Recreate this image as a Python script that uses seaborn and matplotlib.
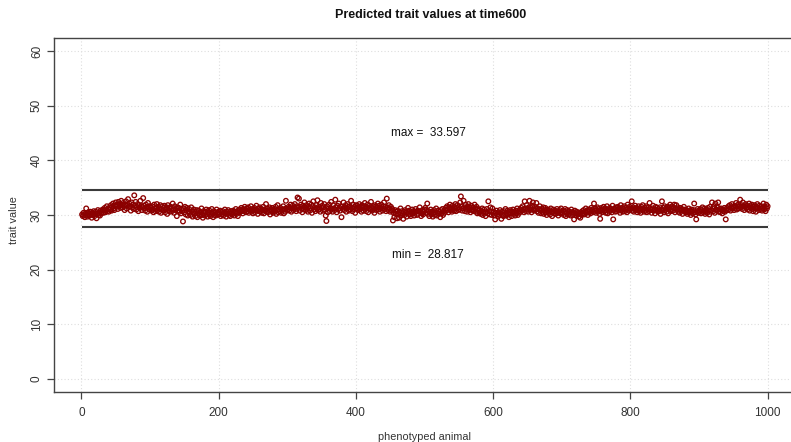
import matplotlib
matplotlib.use("Agg")
import matplotlib.pyplot as plt
import numpy as np
import pandas as pd
import seaborn as sns

# trait values for phenotyped animals 1..1000
seg0 = [30.1, 29.8, 30.4, 30.0, 29.6, 30.3, 31.2, 30.0, 29.7, 30.5,
        30.2, 29.9, 30.6, 30.1, 29.5, 30.4, 30.0, 30.7, 29.8, 30.3,
        30.6, 29.4, 30.2, 30.9, 30.0, 30.4, 29.9, 30.8, 30.3, 30.6,
        31.0, 30.4, 30.8, 31.3, 30.5, 30.9, 31.6, 30.7, 31.1, 30.6,
        31.4, 31.0, 31.8, 30.8, 31.5, 32.1, 31.2, 30.9, 31.7, 32.3,
        31.5, 31.9, 31.1, 32.4, 31.6, 32.0, 31.3, 32.6, 31.8, 31.4,
        32.2, 31.7, 30.9, 31.9, 32.5, 31.2, 31.8, 32.9, 31.5, 32.1,
        31.6, 30.8, 32.3, 31.4, 31.9, 31.1, 33.597, 31.7, 32.4, 31.0,
        31.5, 32.0, 30.7, 31.8, 31.3, 32.6, 31.6, 30.9, 31.4, 33.1,
        31.7, 31.2, 30.8, 31.9, 31.4, 30.6, 32.2, 31.5, 31.0, 31.6]
seg1 = [31.3, 30.8, 31.6, 31.0, 30.5, 31.9, 31.2, 30.7, 31.4, 32.0,
        30.9, 31.5, 30.6, 31.2, 31.8, 30.4, 31.1, 31.6, 30.8, 31.3,
        31.7, 30.5, 31.0, 31.4, 30.2, 31.8, 30.9, 31.3, 30.6, 31.5,
        31.1, 30.7, 32.1, 31.0, 30.4, 31.6, 30.9, 31.2, 29.8, 31.4,
        30.8, 31.3, 30.6, 31.9, 30.3, 31.0, 30.7, 28.817, 31.2, 30.5,
        31.5, 30.1, 30.9, 31.3, 29.9, 30.6, 31.1, 30.4, 30.0, 31.4,
        30.7, 29.7, 30.5, 31.0, 30.2, 29.8, 30.6, 30.9, 29.6, 30.3,
        30.8, 30.1, 29.9, 30.5, 31.2, 30.0, 29.5, 30.7, 30.4, 29.9,
        30.6, 31.0, 30.2, 29.7, 30.5, 30.9, 30.1, 29.8, 30.4, 31.1,
        30.3, 29.6, 30.7, 30.0, 30.5, 29.9, 31.0, 30.4, 30.1, 30.6]
seg2 = [30.2, 30.8, 29.8, 30.5, 30.1, 30.7, 29.9, 30.4, 31.0, 30.3,
        29.7, 30.6, 30.2, 30.9, 30.0, 30.5, 29.8, 30.7, 30.3, 30.1,
        30.8, 30.4, 29.9, 30.6, 31.1, 30.2, 30.5, 29.8, 30.9, 30.4,
        31.0, 30.6, 31.3, 30.8, 30.3, 31.1, 30.7, 31.5, 30.9, 30.5,
        31.2, 30.7, 31.4, 30.4, 31.0, 30.8, 31.6, 30.6, 31.1, 30.3,
        30.9, 31.3, 30.5, 31.0, 31.7, 30.8, 30.2, 31.2, 30.7, 31.4,
        30.6, 31.1, 30.4, 30.9, 31.5, 30.3, 31.0, 30.8, 32.0, 30.6,
        31.2, 30.5, 30.9, 31.4, 30.1, 31.0, 30.7, 31.3, 30.4, 30.8,
        31.1, 30.6, 31.5, 30.2, 30.9, 31.8, 30.5, 31.0, 30.7, 31.3,
        30.4, 31.0, 30.8, 31.6, 30.3, 31.1, 30.6, 32.6, 31.2, 30.9]
seg3 = [31.0, 31.5, 30.8, 31.3, 31.9, 30.6, 31.2, 31.7, 30.9, 31.4,
        32.0, 31.1, 30.7, 31.6, 33.2, 31.3, 33.0, 30.8, 31.5, 31.9,
        31.2, 30.5, 31.7, 31.0, 32.3, 31.4, 30.9, 31.8, 31.1, 30.6,
        31.5, 32.1, 30.8, 31.3, 31.9, 30.4, 31.6, 32.5, 31.0, 31.4,
        30.7, 31.8, 31.2, 32.7, 30.9, 31.5, 31.1, 30.6, 32.2, 31.3,
        31.7, 30.8, 31.4, 32.0, 31.0, 29.9, 28.9, 31.6, 30.5, 31.2,
        31.9, 30.7, 31.3, 32.4, 31.1, 30.6, 31.8, 31.2, 30.9, 32.8,
        31.4, 30.5, 31.7, 31.0, 32.1, 31.3, 30.8, 31.6, 29.6, 31.5,
        31.1, 32.3, 30.9, 31.4, 31.8, 30.6, 31.2, 32.0, 31.5, 30.8,
        31.6, 31.0, 32.6, 31.3, 30.7, 31.9, 31.1, 31.5, 30.4, 31.8]
seg4 = [31.2, 31.7, 30.9, 31.4, 32.0, 31.0, 31.5, 30.6, 31.8, 31.3,
        30.8, 31.6, 32.2, 31.1, 30.7, 31.4, 31.9, 30.5, 31.2, 31.7,
        31.0, 32.4, 31.3, 30.8, 31.6, 31.1, 30.4, 31.8, 31.5, 30.9,
        31.4, 32.1, 31.0, 31.7, 30.6, 31.3, 31.9, 31.2, 30.8, 31.6,
        32.3, 31.1, 31.5, 30.7, 33.0, 31.4, 30.9, 31.8, 31.2, 30.6,
        31.5, 30.8, 31.1, 29.0, 30.4, 29.6, 30.9, 30.2, 30.6, 29.4,
        30.8, 30.1, 29.5, 30.5, 31.2, 29.9, 30.7, 30.3, 29.3, 30.6,
        30.0, 30.9, 30.4, 29.7, 30.6, 31.3, 30.2, 30.8, 30.1, 29.8,
        30.5, 31.0, 30.3, 30.7, 29.9, 30.4, 31.1, 30.6, 30.0, 30.8,
        30.2, 30.7, 31.4, 30.5, 29.8, 30.3, 30.9, 30.1, 30.6, 31.0]
seg5 = [31.3, 30.4, 30.9, 32.1, 30.2, 30.7, 29.8, 30.5, 31.0, 30.1,
        30.6, 29.7, 30.3, 30.9, 30.0, 30.5, 31.2, 29.9, 30.4, 30.8,
        30.2, 30.6, 29.6, 30.9, 30.3, 31.1, 30.0, 30.7, 30.4, 31.0,
        31.3, 30.8, 31.6, 31.0, 30.5, 31.4, 31.9, 30.9, 31.2, 30.6,
        31.7, 31.1, 30.8, 31.5, 32.0, 30.7, 31.3, 31.8, 30.9, 31.4,
        31.0, 32.3, 33.4, 31.6, 30.8, 31.2, 32.6, 31.4, 30.7, 31.9,
        31.1, 30.6, 31.5, 32.0, 30.9, 31.3, 30.5, 31.7, 31.0, 30.8,
        31.4, 30.7, 31.9, 31.2, 30.6, 31.5, 30.3, 31.1, 30.8, 30.4,
        30.9, 30.2, 30.7, 31.2, 30.0, 30.6, 31.0, 30.4, 29.8, 30.5,
        31.1, 30.3, 32.5, 30.7, 30.1, 31.4, 30.6, 30.0, 31.2, 30.4]
seg6 = [30.6, 29.9, 29.2, 30.4, 30.8, 30.1, 29.7, 30.5, 30.0, 30.9,
        30.3, 29.3, 30.6, 30.0, 29.8, 30.7, 30.2, 31.1, 29.9, 30.4,
        30.8, 30.1, 29.6, 30.5, 30.9, 30.3, 29.8, 30.6, 31.0, 30.2,
        30.5, 29.9, 30.8, 30.3, 31.2, 30.0, 30.7, 30.4, 31.0, 30.6,
        31.3, 30.8, 31.6, 31.0, 30.5, 32.5, 31.2, 30.7, 31.8, 31.1,
        30.6, 31.4, 32.6, 30.9, 31.3, 30.5, 31.7, 32.3, 31.0, 30.8,
        31.5, 31.1, 32.2, 30.7, 31.2, 30.4, 31.0, 31.6, 30.8, 30.3,
        31.1, 30.6, 31.4, 30.2, 30.9, 31.3, 30.5, 30.0, 31.0, 30.7,
        30.4, 30.9, 30.1, 31.2, 30.6, 29.8, 30.5, 31.0, 30.3, 30.8,
        30.2, 30.7, 31.1, 30.4, 29.9, 30.6, 30.9, 30.3, 31.2, 30.5]
seg7 = [30.3, 30.8, 30.0, 30.6, 31.1, 29.8, 30.4, 30.9, 30.1, 30.7,
        30.2, 30.6, 29.9, 31.0, 30.4, 30.0, 30.5, 29.2, 30.8, 30.3,
        29.9, 30.6, 30.1, 30.4, 29.7, 30.2, 29.5, 30.5, 30.0, 30.7,
        30.3, 30.9, 30.1, 30.6, 31.2, 30.4, 30.8, 30.0, 31.0, 30.5,
        30.9, 30.3, 31.3, 30.7, 31.0, 30.5, 32.1, 30.8, 31.2, 30.4,
        30.9, 31.4, 30.6, 31.1, 30.2, 29.3, 30.8, 31.3, 30.5, 31.0,
        31.5, 30.7, 31.2, 30.4, 30.9, 31.6, 30.3, 31.0, 30.6, 31.3,
        30.8, 31.1, 30.5, 31.7, 29.2, 30.9, 31.2, 30.6, 31.4, 30.7,
        31.0, 31.5, 30.8, 31.2, 30.4, 31.8, 30.9, 31.3, 30.6, 31.1,
        31.6, 30.7, 31.0, 31.4, 30.5, 31.9, 31.2, 30.8, 31.5, 31.0]
seg8 = [31.2, 32.5, 30.8, 31.4, 30.6, 31.1, 31.7, 30.9, 31.3, 30.5,
        31.0, 31.6, 30.7, 31.2, 30.4, 31.5, 30.9, 31.8, 31.1, 30.6,
        31.3, 30.8, 31.6, 30.5, 31.0, 31.4, 30.7, 32.2, 31.1, 30.9,
        30.4, 31.2, 31.7, 30.8, 31.0, 30.3, 31.5, 30.9, 31.3, 30.6,
        31.1, 30.7, 31.4, 30.2, 31.0, 32.5, 30.8, 31.3, 30.5, 31.6,
        30.9, 31.2, 30.6, 31.5, 30.3, 31.0, 31.4, 31.9, 30.7, 31.1,
        31.6, 30.8, 31.3, 31.9, 30.5, 31.2, 31.8, 30.9, 31.4, 30.6,
        31.0, 30.4, 31.3, 30.8, 31.1, 30.2, 30.9, 31.5, 30.6, 31.0,
        30.5, 30.9, 30.2, 30.7, 31.2, 30.4, 30.8, 30.0, 31.0, 30.6,
        30.3, 30.9, 32.1, 30.5, 30.1, 29.2, 30.7, 31.1, 30.4, 30.8]
seg9 = [30.6, 31.1, 30.3, 30.9, 31.4, 30.5, 30.8, 31.2, 30.2, 30.7,
        31.0, 30.4, 31.3, 30.8, 30.1, 31.5, 30.6, 30.9, 32.3, 31.2,
        30.7, 31.6, 30.4, 32.1, 31.0, 30.8, 31.4, 32.3, 30.6, 31.1,
        30.5, 31.2, 30.9, 30.3, 31.0, 30.7, 31.3, 30.6, 29.2, 30.9,
        31.3, 30.9, 31.6, 31.1, 31.8, 30.8, 31.4, 32.0, 31.2, 31.5,
        30.9, 31.7, 31.3, 32.2, 31.0, 31.6, 31.9, 31.2, 31.5, 32.8,
        31.4, 31.8, 31.1, 32.3, 31.6, 30.9, 31.5, 32.0, 31.3, 31.7,
        31.0, 31.4, 32.1, 30.8, 31.6, 31.3, 31.9, 31.1, 30.7, 31.5,
        31.8, 31.2, 30.6, 31.5, 32.0, 31.3, 30.9, 31.7, 31.4, 31.1,
        31.6, 30.8, 31.3, 32.1, 31.0, 31.5, 30.7, 31.9, 31.2, 31.6]

trait = seg0 + seg1 + seg2 + seg3 + seg4 + seg5 + seg6 + seg7 + seg8 + seg9
animal = list(range(1, len(trait) + 1))

x_ticks = [0, 200, 400, 600, 800, 1000]
y_ticks = [0, 10, 20, 30, 40, 50, 60]
title = "Predicted trait values at time600"

sns.set_theme(style="white")
plt.rcParams['font.family'] = ['Liberation Sans', 'DejaVu Sans']

W, H = 791, 442
fig = plt.figure(figsize=(W / 100, H / 100), dpi=100)
ax = fig.add_axes([54 / W, 50 / H, 745 / W, 354 / H])

df = pd.DataFrame({"animal": animal, "trait": trait})
sns.scatterplot(data=df, x="animal", y="trait", ax=ax, marker="o", s=11,
                facecolors="none", edgecolor="#8B0000", linewidth=0.95,
                zorder=3, legend=False)

tmax = max(trait)
tmin = min(trait)
ax.hlines([tmax + 1, tmin - 1], animal[0], animal[-1], colors="#3a3a3a",
          linewidth=1.5, zorder=4)

ax.text(505, 45.0, f"max =  {tmax:.3f}", ha="center", va="center",
        fontsize=8.5, color="#111111")
ax.text(505, 22.7, f"min =  {tmin:.3f}", ha="center", va="center",
        fontsize=8.5, color="#111111")

ax.set_xlim(-39.96, 1039.96 + 5.8)
ax.set_ylim(-2.4, 62.4)
ax.set_xticks(x_ticks)
ax.set_yticks(y_ticks)
ax.set_xticklabels([str(t) for t in x_ticks])
ax.set_yticklabels([str(t) for t in y_ticks], rotation=90, va="center")
ax.grid(True, color="#dedede", linestyle=(0, (1, 2)), linewidth=0.8, zorder=0)
ax.set_axisbelow(True)

for side in ["left", "bottom", "top"]:
    ax.spines[side].set_color("#444444")
    ax.spines[side].set_linewidth(1.0)
ax.spines["right"].set_visible(False)

ax.tick_params(axis="both", direction="out", length=5, width=0.9,
               color="#444444", labelsize=8.5, labelcolor="#333333")
ax.tick_params(axis="x", pad=6)
ax.tick_params(axis="y", pad=3)
ax.tick_params(left=True, bottom=True)

ax.set_xlabel("")
ax.set_ylabel("")
fig.text(425 / W, 1 - 437 / H, "phenotyped animal", ha="center", va="center",
         fontsize=7.8, color="#333333")
fig.text(14 / W, 1 - 220 / H, "trait value", ha="center", va="center",
         rotation=90, fontsize=7.8, color="#333333")
fig.text(431 / W, 1 - 15 / H, title, ha="center", va="center",
         fontsize=9, fontweight="bold", color="#111111")

fig.savefig("out.png", dpi=100, facecolor="white")
